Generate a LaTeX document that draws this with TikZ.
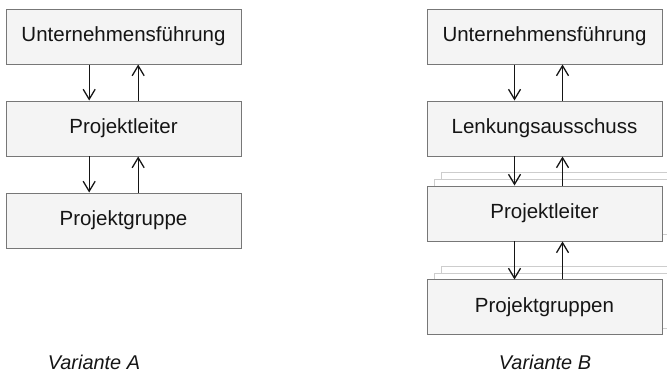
\documentclass[tikz,border=0pt]{standalone}
\usepackage{fontspec}
\setmainfont{Liberation Sans}
\usepackage{tikz}
\usetikzlibrary{arrows.meta,positioning,backgrounds}
\definecolor{boxline}{HTML}{777777}
\definecolor{boxfill}{HTML}{F4F4F4}
\definecolor{ghostline}{HTML}{CDCDCD}
\definecolor{ink}{HTML}{151515}
\tikzset{
  orgbox/.style={
    rectangle, draw=boxline, fill=boxfill, line width=0.85pt,
    minimum width=7.05cm, minimum height=1.65cm,
    font=\fontsize{17.5}{20}\selectfont, text=ink, align=center,
    inner sep=0pt
  },
  ghostbox/.style={
    rectangle, draw=ghostline, fill=white, line width=0.7pt,
    minimum width=7.05cm, minimum height=1.65cm, inner sep=0pt
  },
  flowarrow/.style={
    -{Straight Barb[length=0.3cm, width=0.36cm]}, line width=1.1pt, color=ink
  },
  variantlabel/.style={
    font=\fontsize{17}{20}\selectfont\itshape, text=ink, anchor=base
  },
}
\begin{document}
\begin{tikzpicture}[node distance=1.08cm and 5.55cm]
\useasboundingbox (0,0) rectangle (20.01,-11.22);

% Variante A
\node[orgbox] (uA) at (3.705,-1.095) {Unternehmensführung};
\node[orgbox, below=of uA] (plA) {Projektleiter};
\node[orgbox, below=of plA] (pgA) {Projektgruppe};

\draw[flowarrow] ([xshift=-1.03cm]uA.south) -- ([xshift=-1.03cm]plA.north);
\draw[flowarrow] ([xshift=0.44cm]plA.north) -- ([xshift=0.44cm]uA.south);
\draw[flowarrow] ([xshift=-1.03cm]plA.south) -- ([xshift=-1.03cm]pgA.north);
\draw[flowarrow] ([xshift=0.44cm]pgA.north) -- ([xshift=0.44cm]plA.south);

% Variante B
\node[orgbox, right=of uA] (uB) {Unternehmensführung};
\node[orgbox, below=of uB] (laB) {Lenkungsausschuss};
\node[orgbox, below=0.87cm of laB] (plB) {Projektleiter};
\node[orgbox, below=1.14cm of plB] (pgB) {Projektgruppen};

% stacked copies behind the boxes
\begin{scope}[on background layer]
  \node[ghostbox] (plB2) at ([shift={(0.42cm,0.42cm)}]plB.center) {};
  \node[ghostbox] (plB1) at ([shift={(0.21cm,0.21cm)}]plB.center) {};
  \node[ghostbox] (pgB2) at ([shift={(0.42cm,0.42cm)}]pgB.center) {};
  \node[ghostbox] (pgB1) at ([shift={(0.21cm,0.21cm)}]pgB.center) {};
\end{scope}

\draw[flowarrow] ([xshift=-0.9cm]uB.south) -- ([xshift=-0.9cm]laB.north);
\draw[flowarrow] ([xshift=0.54cm]laB.north) -- ([xshift=0.54cm]uB.south);
\draw[flowarrow] ([xshift=-0.9cm]laB.south) -- ([xshift=-0.9cm]plB.north);
\draw[flowarrow] ([xshift=0.54cm]plB.north) -- ([xshift=0.54cm]laB.south);
\draw[flowarrow] ([xshift=-0.9cm]plB.south) -- ([xshift=-0.9cm]pgB.north);
\draw[flowarrow] ([xshift=0.54cm]pgB.north) -- ([xshift=0.54cm]plB.south);

% captions
\node[variantlabel] (capA) at (2.82,-11.07) {Variante A};
\node[variantlabel] (capB) at (16.35,-11.07) {Variante B};

\end{tikzpicture}
\end{document}
